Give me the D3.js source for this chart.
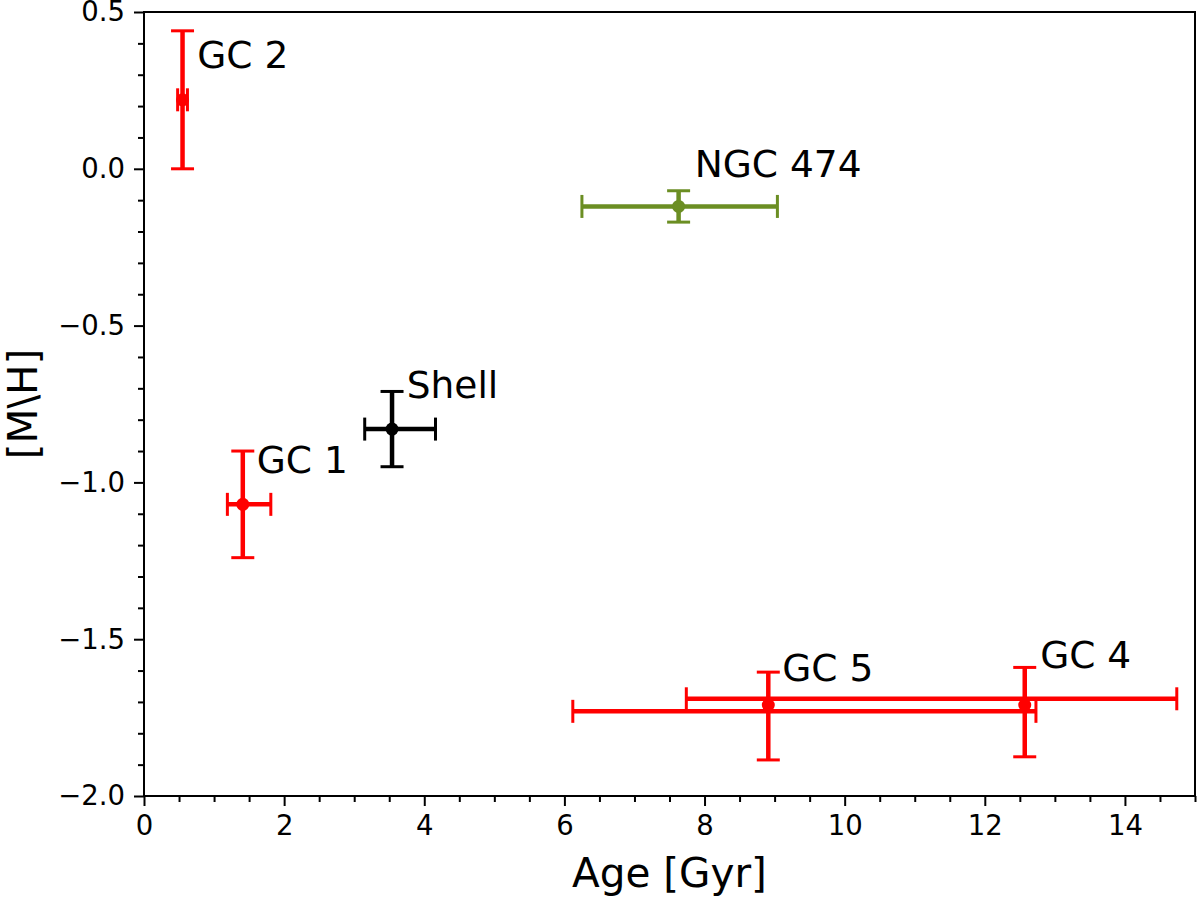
<!DOCTYPE html>
<html lang="en">
<head>
<meta charset="UTF-8">
<title>Age vs metallicity</title>
<script src="https://d3js.org/d3.v7.min.js"></script>
<style>
  body { margin: 0; background: #fff; }
  svg { display: block; font-family: "DejaVu Sans", sans-serif; }
</style>
</head>
<body>
<svg id="chart" width="1200" height="897"></svg>
<script>
// objects
const names   = ["GC 2", "GC 1", "Shell", "NGC 474", "GC 5", "GC 4"];
const ages    = [0.55, 1.41, 3.54, 7.63, 8.91, 12.57];
const mh      = [0.22, -1.07, -0.83, -0.12, -1.71, -1.71];
const ageLo   = [0.48, 1.19, 3.15, 6.25, 6.12, 7.74];
const ageHi   = [0.62, 1.81, 4.16, 9.04, 12.73, 14.74];
const mhLo    = [0.00, -1.24, -0.95, -0.17, -1.885, -1.875];
const mhHi    = [0.44, -0.90, -0.71, -0.07, -1.605, -1.59];
const barMh   = [0.22, -1.07, -0.83, -0.12, -1.73, -1.69];   // y where the horizontal bar sits
const colors  = ["red", "red", "black", "olivedrab", "red", "red"];
const labelAge = [0.76, 1.61, 3.75, 7.86, 9.11, 12.79];
const labelMh  = [0.32, -0.97, -0.73, -0.026, -1.633, -1.592];

const xTicks = [0, 2, 4, 6, 8, 10, 12, 14];
const yTicks = [0.5, 0.0, -0.5, -1.0, -1.5, -2.0];

const width = 1200, height = 897;
const margin = {top: 12, right: 5, bottom: 101, left: 144};

const x = d3.scaleLinear().domain([0, 15]).range([margin.left, width - margin.right]);
const y = d3.scaleLinear().domain([-2.0, 0.5]).range([height - margin.bottom, margin.top]);

const svg = d3.select("#chart");
const fmtY = v => d3.format(".1f")(v).replace("-", "\u2212");

// minor ticks
const xMinor = d3.range(0, 15.01, 0.5).filter(v => !xTicks.includes(v));
const yMinor = d3.range(-2.0, 0.501, 0.1).map(v => +v.toFixed(1)).filter(v => !yTicks.includes(v));

const xAxis = svg.append("g")
  .attr("transform", `translate(0,${height - margin.bottom})`)
  .call(d3.axisBottom(x).tickValues(xTicks).tickSize(10).tickPadding(9).tickFormat(d3.format("d")));
const xAxisMinor = svg.append("g")
  .attr("transform", `translate(0,${height - margin.bottom})`)
  .call(d3.axisBottom(x).tickValues(xMinor).tickSize(6).tickFormat(""));

const yAxis = svg.append("g")
  .attr("transform", `translate(${margin.left},0)`)
  .call(d3.axisLeft(y).tickValues(yTicks).tickSize(10).tickPadding(9).tickFormat(fmtY));
const yAxisMinor = svg.append("g")
  .attr("transform", `translate(${margin.left},0)`)
  .call(d3.axisLeft(y).tickValues(yMinor).tickSize(6).tickFormat(""));

[xAxis, xAxisMinor, yAxis, yAxisMinor].forEach(g => {
  g.select(".domain").remove();
  g.selectAll("line").attr("stroke", "#000").attr("stroke-width", 2);
  g.selectAll("text").attr("font-size", 27.5).attr("font-family", "DejaVu Sans").attr("fill", "#000");
});

// frame
svg.append("rect")
  .attr("x", margin.left).attr("y", margin.top)
  .attr("width", width - margin.left - margin.right)
  .attr("height", height - margin.top - margin.bottom)
  .attr("fill", "none").attr("stroke", "#000").attr("stroke-width", 2);

// error bars
const cap = 11.5;
const idx = d3.range(names.length);
const pts = svg.append("g");
idx.forEach(i => {
  const g = pts.append("g").attr("stroke", colors[i]);
  // horizontal bar
  g.append("line")
    .attr("x1", x(ageLo[i])).attr("x2", x(ageHi[i]))
    .attr("y1", y(barMh[i])).attr("y2", y(barMh[i]))
    .attr("stroke-width", 4.5);
  [ageLo[i], ageHi[i]].forEach(a => {
    g.append("line")
      .attr("x1", x(a)).attr("x2", x(a))
      .attr("y1", y(barMh[i]) - cap).attr("y2", y(barMh[i]) + cap)
      .attr("stroke-width", 3);
  });
  // vertical bar
  g.append("line")
    .attr("x1", x(ages[i])).attr("x2", x(ages[i]))
    .attr("y1", y(mhLo[i])).attr("y2", y(mhHi[i]))
    .attr("stroke-width", 4.5);
  [mhLo[i], mhHi[i]].forEach(m => {
    g.append("line")
      .attr("x1", x(ages[i]) - cap).attr("x2", x(ages[i]) + cap)
      .attr("y1", y(m)).attr("y2", y(m))
      .attr("stroke-width", 3);
  });
  g.append("circle")
    .attr("cx", x(ages[i])).attr("cy", y(mh[i]))
    .attr("r", 6.5).attr("fill", colors[i]).attr("stroke", "none");
});

// labels
svg.append("g").selectAll("text")
  .data(idx)
  .join("text")
  .attr("x", i => x(labelAge[i]))
  .attr("y", i => y(labelMh[i]))
  .attr("font-size", 37.5)
  .attr("fill", "#000")
  .text(i => names[i]);

// axis titles
svg.append("text")
  .attr("x", (margin.left + width - margin.right) / 2)
  .attr("y", 887)
  .attr("text-anchor", "middle")
  .attr("font-size", 40.5)
  .text("Age [Gyr]");

svg.append("text")
  .attr("transform", `translate(37,${(margin.top + height - margin.bottom) / 2}) rotate(-90)`)
  .attr("text-anchor", "middle")
  .attr("font-size", 40.5)
  .text("[M\\H]");
</script>
</body>
</html>
